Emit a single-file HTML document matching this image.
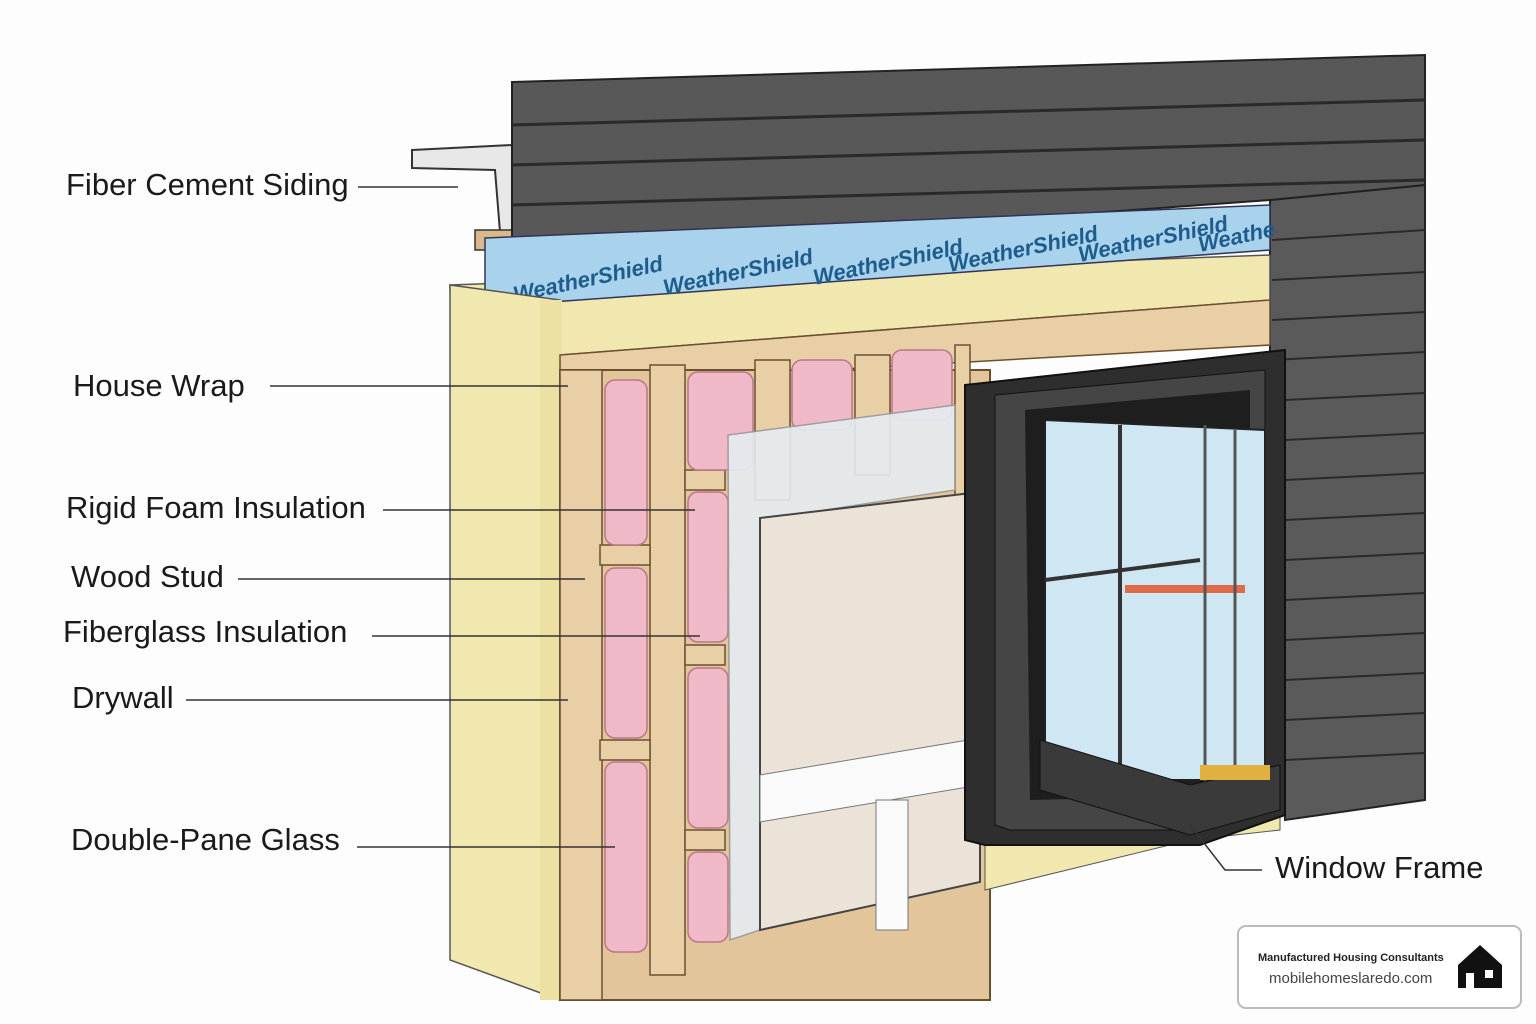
<!DOCTYPE html>
<html><head><meta charset="utf-8"><style>
body{margin:0;background:#fff;}
svg{display:block;}
text{font-family:"Liberation Sans",sans-serif;}
</style></head><body>
<svg width="1536" height="1024" viewBox="0 0 1536 1024" xmlns="http://www.w3.org/2000/svg">
<rect width="1536" height="1024" fill="#fdfdfd"/>
<polygon points="412,150 512,145 512,230 500,232 495,170 412,168" fill="#e8e8e8" stroke="#333" stroke-width="2"/>
<rect x="475" y="230" width="40" height="20" fill="#d9b98a" stroke="#333" stroke-width="1.5"/>
<polygon points="1270,200 1425,185 1425,800 1285,820 1285,385 1270,360" fill="#5a5a5a" stroke="#222" stroke-width="2"/>
<g stroke="#2a2a2a" stroke-width="2">
<line x1="1272" y1="240" x2="1425" y2="230"/><line x1="1272" y1="280" x2="1425" y2="272"/>
<line x1="1272" y1="320" x2="1425" y2="312"/><line x1="1272" y1="360" x2="1425" y2="352"/>
<line x1="1285" y1="400" x2="1425" y2="393"/><line x1="1285" y1="440" x2="1425" y2="433"/>
<line x1="1285" y1="480" x2="1425" y2="473"/><line x1="1285" y1="520" x2="1425" y2="513"/>
<line x1="1285" y1="560" x2="1425" y2="553"/><line x1="1285" y1="600" x2="1425" y2="593"/>
<line x1="1285" y1="640" x2="1425" y2="633"/><line x1="1285" y1="680" x2="1425" y2="673"/>
<line x1="1285" y1="720" x2="1425" y2="713"/><line x1="1285" y1="760" x2="1425" y2="753"/>
</g>
<polygon points="512,82 1425,55 1425,185 1270,200 512,255" fill="#585858" stroke="#222" stroke-width="2"/>
<g stroke="#2a2a2a" stroke-width="3">
<line x1="512" y1="125" x2="1425" y2="100"/><line x1="512" y1="165" x2="1425" y2="140"/>
<line x1="512" y1="205" x2="1425" y2="180"/>
</g>
<polygon points="450,285 1270,255 1270,300 560,355 450,290" fill="#f1e8b0" stroke="#555" stroke-width="1.5"/>
<polygon points="485,238 1270,205 1270,250 510,305 485,300" fill="#a9d3ec" stroke="#335" stroke-width="1.5"/>
<g fill="#1d5c8c" font-size="22" font-style="italic" font-weight="bold">
<text x="515" y="302" transform="rotate(-12 515 302)">WeatherShield</text>
<text x="665" y="295" transform="rotate(-12 665 295)">WeatherShield</text>
<text x="815" y="285" transform="rotate(-12 815 285)">WeatherShield</text>
<text x="950" y="272" transform="rotate(-12 950 272)">WeatherShield</text>
<text x="1080" y="262" transform="rotate(-12 1080 262)">WeatherShield</text>
<text x="1200" y="252" transform="rotate(-12 1200 252)">Weathe</text>
</g>
<polygon points="450,285 560,300 560,1000 450,960" fill="#f1e8b0" stroke="#555" stroke-width="1.5"/>
<rect x="540" y="300" width="22" height="700" fill="#ece1a2"/>
<polygon points="560,355 1270,300 1270,345 560,385" fill="#e9cfa6" stroke="#6b5030" stroke-width="1.5"/>
<rect x="560" y="370" width="430" height="630" fill="#e2c59a" stroke="#6b5030" stroke-width="2"/>
<g fill="#e8cfa6" stroke="#6b5030" stroke-width="1.5">
<rect x="560" y="370" width="42" height="630"/>
<rect x="650" y="365" width="35" height="610"/>
<rect x="755" y="360" width="35" height="140"/>
<rect x="855" y="355" width="35" height="120"/>
<rect x="955" y="345" width="15" height="500"/>
<rect x="600" y="545" width="50" height="20"/><rect x="600" y="740" width="50" height="20"/>
<rect x="685" y="470" width="40" height="20"/><rect x="685" y="645" width="40" height="20"/><rect x="685" y="830" width="40" height="20"/>
</g>
<g fill="#f0b9c8" stroke="#b87888" stroke-width="1.5">
<rect x="605" y="380" width="42" height="165" rx="10"/>
<rect x="605" y="568" width="42" height="170" rx="10"/>
<rect x="605" y="762" width="42" height="190" rx="10"/>
<rect x="688" y="372" width="65" height="98" rx="10"/>
<rect x="688" y="492" width="40" height="150" rx="10"/>
<rect x="688" y="668" width="40" height="160" rx="10"/>
<rect x="688" y="852" width="40" height="90" rx="10"/>
<rect x="792" y="360" width="60" height="70" rx="10"/>
<rect x="892" y="350" width="60" height="70" rx="10"/>
</g>
<polygon points="728,435 955,405 955,490 760,520 760,930 730,940" fill="#e6ecf2" stroke="#999" stroke-width="1.5" opacity="0.9"/>
<polygon points="760,518 980,492 980,882 760,930" fill="#ebe3d8" stroke="#444" stroke-width="2"/>
<polygon points="760,775 980,738 980,785 760,822" fill="#fafafa" stroke="#777"/>
<rect x="876" y="800" width="32" height="130" fill="#fafafa" stroke="#777"/>
<polygon points="985,845 1280,815 1280,830 1190,840 985,890" fill="#f1e8b0" stroke="#555"/>
<polygon points="965,385 1285,350 1285,815 1200,845 985,845 965,840" fill="#2e2e2e" stroke="#111" stroke-width="2"/>
<polygon points="995,395 1265,370 1265,800 1180,830 1010,830 995,825" fill="#454545" stroke="#111"/>
<polygon points="1025,410 1250,390 1250,795 1030,800" fill="#1e1e1e"/>
<polygon points="1045,420 1265,430 1265,780 1045,780" fill="#cfe6f3" stroke="#222" stroke-width="2"/>
<line x1="1120" y1="425" x2="1120" y2="780" stroke="#333" stroke-width="4"/>
<line x1="1045" y1="580" x2="1200" y2="560" stroke="#333" stroke-width="4"/>
<rect x="1125" y="585" width="120" height="8" fill="#e06a4a"/>
<line x1="1205" y1="425" x2="1205" y2="800" stroke="#555" stroke-width="3"/>
<line x1="1235" y1="430" x2="1235" y2="800" stroke="#555" stroke-width="3"/>
<polygon points="1040,740 1190,785 1280,765 1280,810 1190,835 1040,790" fill="#3a3a3a" stroke="#111"/>
<rect x="1200" y="765" width="70" height="15" fill="#e0b040"/>
<g font-size="31" fill="#1a1a1a">
<text x="66" y="195">Fiber Cement Siding</text>
<text x="73" y="396">House Wrap</text>
<text x="66" y="518">Rigid Foam Insulation</text>
<text x="71" y="587">Wood Stud</text>
<text x="63" y="642">Fiberglass Insulation</text>
<text x="72" y="708">Drywall</text>
<text x="71" y="850">Double-Pane Glass</text>
<text x="1275" y="878">Window Frame</text>
</g>
<g stroke="#333" stroke-width="1.5" fill="none">
<line x1="358" y1="187" x2="458" y2="187"/>
<line x1="270" y1="386" x2="568" y2="386"/>
<line x1="383" y1="510" x2="695" y2="510"/>
<line x1="238" y1="579" x2="585" y2="579"/>
<line x1="372" y1="636" x2="700" y2="636"/>
<line x1="186" y1="700" x2="568" y2="700"/>
<line x1="357" y1="847" x2="615" y2="847"/>
<polyline points="1262,870 1225,870 1190,825"/>
</g>
<rect x="1238" y="926" width="283" height="82" rx="8" fill="#fff" stroke="#bbb" stroke-width="2"/>
<text x="1258" y="961" font-size="11" font-weight="bold" fill="#222">Manufactured Housing Consultants</text>
<text x="1269" y="983" font-size="15" fill="#444">mobilehomeslaredo.com</text>
<polygon points="1458,965 1480,945 1502,965 1502,988 1458,988" fill="#111"/>
<rect x="1466" y="973" width="8" height="15" fill="#fff"/><rect x="1485" y="970" width="8" height="8" fill="#fff"/>
</svg>
</body></html>
